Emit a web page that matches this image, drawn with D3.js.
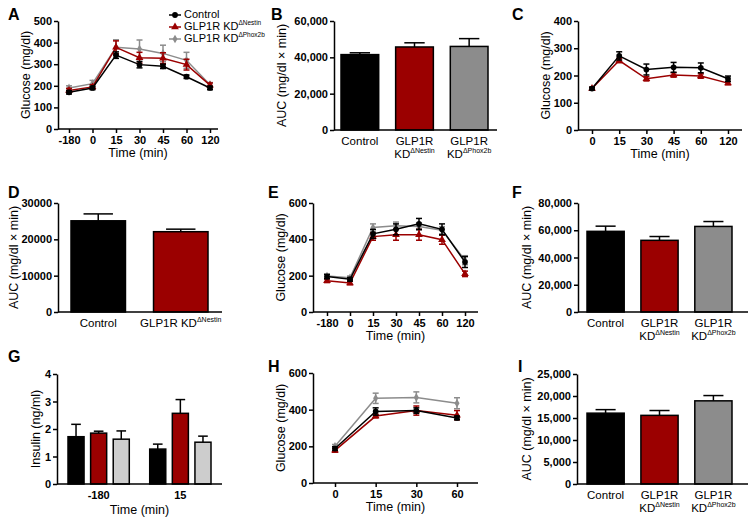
<!DOCTYPE html>
<html><head><meta charset="utf-8">
<script src="https://cdn.jsdelivr.net/npm/d3@7"></script>
<style>
body{margin:0;background:#fff;}
svg{font-family:"Liberation Sans",Arial,Helvetica,sans-serif;}
</style></head>
<body><svg id="c" width="755" height="525"></svg>
<script>
// ---------- DATA ----------
const timeA = ["-180","0","15","30","45","60","120"];
const aControl = [170,190,342,298,290,242,190];
const aControlErr = [8,8,15,15,10,8,8];
const aNestin = [178,195,378,330,328,298,203];
const aNestinErr = [10,10,30,25,25,25,10];
const aPhox = [190,210,378,370,350,318,205];
const aPhoxErr = [10,15,35,42,38,37,10];

const aucGroups = ["Control","Nestin","Phox2b"];
const bAUC = [41500,45700,46000];
const bAUCErr = [1000,2300,4300];

const timeC = ["0","15","30","45","60","120"];
const cControl = [152,272,222,230,228,188];
const cControlErr = [5,15,20,18,18,10];
const cNestin = [152,255,188,202,198,172];
const cNestinErr = [5,8,8,8,8,6];

const dGroups = ["Control","Nestin"];
const dAUC = [25100,22100];
const dAUCErr = [1900,700];

const eControl = [195,180,430,455,485,455,275];
const eControlErr = [12,10,25,30,30,30,30];
const eNestin = [172,160,415,425,425,398,210];
const eNestinErr = [10,10,20,30,30,25,15];
const ePhox = [198,188,465,475,470,450,285];
const ePhoxErr = [10,10,20,20,20,20,25];

const fAUC = [59200,52600,62800];
const fAUCErr = [3800,2800,3600];

const gTimes = ["-180","15"];
const gControl = [1.72,1.27];
const gControlErr = [0.45,0.18];
const gNestin = [1.85,2.57];
const gNestinErr = [0.07,0.5];
const gPhox = [1.63,1.52];
const gPhoxErr = [0.3,0.22];

const timeH = ["0","15","30","60"];
const hControl = [188,390,395,355];
const hControlErr = [10,20,15,10];
const hNestin = [178,365,395,370];
const hNestinErr = [10,10,25,25];
const hPhox = [200,462,467,435];
const hPhoxErr = [10,28,30,30];

const iAUC = [16100,15600,18900];
const iAUCErr = [800,1100,1200];

// ---------- STYLE ----------
const BLACK="#000", RED="#9b0000", GRAY="#8c8c8c", LGRAY="#cdcdcd";
const svg = d3.select("#c");
const TICKF = "bold 11px 'Liberation Sans',Arial,sans-serif";

function yAxisAndFrame(g, L, y, ticks, fmt, title, titleX){
  const ax = g.append("g").attr("transform",`translate(${L.left},0)`)
    .call(d3.axisLeft(y).tickValues(ticks).tickFormat(fmt).tickSize(4).tickSizeOuter(0).tickPadding(2));
  ax.select(".domain").attr("stroke","#000").attr("stroke-width",1.5);
  ax.selectAll(".tick line").attr("stroke","#000").attr("stroke-width",1.5);
  ax.selectAll(".tick text").style("font",TICKF).attr("fill","#000");
  g.append("line").attr("x1",L.left).attr("x2",L.right).attr("y1",L.bottom).attr("y2",L.bottom)
    .attr("stroke","#000").attr("stroke-width",1.5);
  g.append("text").attr("transform",`translate(${titleX},${(L.top+L.bottom)/2}) rotate(-90)`)
    .attr("text-anchor","middle").attr("dominant-baseline","middle")
    .style("font-size","12.5px").text(title);
}
function panelLetter(x,y,t){
  svg.append("text").attr("x",x).attr("y",y).style("font","bold 16px 'Liberation Sans',Arial,sans-serif").text(t);
}
function xTitle(L, t, dy){
  svg.append("text").attr("x",(L.left+L.right)/2).attr("y",L.bottom+(dy||25)).attr("text-anchor","middle")
    .attr("dominant-baseline","middle").style("font-size","12.5px").text(t);
}

const SYM = {c:d3.symbolCircle, t:d3.symbolTriangle, d:d3.symbolDiamond};

function linePanel(L, cats, series, ymax, ticks, letter, titleX){
  const g = svg.append("g");
  const x = d3.scalePoint().domain(cats).range([L.p0,L.p1]);
  const y = d3.scaleLinear().domain([0,ymax]).range([L.bottom,L.top]);
  yAxisAndFrame(g,L,y,ticks,d3.format("d"),"Glucose (mg/dl)",titleX);
  const xa = g.append("g").attr("transform",`translate(0,${L.bottom})`)
    .call(d3.axisBottom(x).tickSize(4).tickPadding(3));
  xa.select(".domain").remove();
  xa.selectAll(".tick line").attr("stroke","#000").attr("stroke-width",1.5);
  xa.selectAll(".tick text").style("font",TICKF).attr("fill","#000");
  series.forEach(s=>{
    const pts = cats.map((c,i)=>({x:x(c),v:s.v[i],e:s.e[i]}));
    g.append("path").datum(pts).attr("fill","none").attr("stroke",s.color).attr("stroke-width",1.5)
      .attr("d",d3.line().x(d=>d.x).y(d=>y(d.v)));
    pts.forEach(d=>{
      g.append("line").attr("x1",d.x).attr("x2",d.x).attr("y1",y(d.v-d.e)).attr("y2",y(d.v+d.e))
        .attr("stroke",s.color).attr("stroke-width",1.5);
      [d.v-d.e,d.v+d.e].forEach(vv=>g.append("line").attr("x1",d.x-3).attr("x2",d.x+3)
        .attr("y1",y(vv)).attr("y2",y(vv)).attr("stroke",s.color).attr("stroke-width",1.5));
      g.append("path").attr("transform",`translate(${d.x},${y(d.v)})`)
        .attr("d",d3.symbol().type(SYM[s.sym]).size(s.sym==="d"?22:26)()).attr("fill",s.color);
    });
  });
  xTitle(L,"Time (min)");
  return g;
}

function catLabel(g, xc, yb, key, single){
  if(key==="Control"){
    g.append("text").attr("x",xc).attr("y",yb).attr("text-anchor","middle").attr("dominant-baseline","middle")
      .style("font-size","11.5px").text("Control");
    return;
  }
  const sup = "\u0394"+key;
  if(single){
    const t = g.append("text").attr("x",xc).attr("y",yb).attr("text-anchor","middle").attr("dominant-baseline","middle")
      .style("font-size","11.5px");
    t.append("tspan").text("GLP1R KD");
    t.append("tspan").attr("dy",-4).style("font-size","7px").text(sup);
    return;
  }
  g.append("text").attr("x",xc).attr("y",yb).attr("text-anchor","middle").attr("dominant-baseline","middle")
    .style("font-size","11.5px").text("GLP1R");
  const t = g.append("text").attr("x",xc).attr("y",yb+13).attr("text-anchor","middle").attr("dominant-baseline","middle")
    .style("font-size","11.5px");
  t.append("tspan").text("KD");
  t.append("tspan").attr("dy",-4).style("font-size","7px").text(sup);
}

function barPanel(L, cats, vals, errs, colors, ymax, ticks, fmt, titleX, single){
  const g = svg.append("g");
  const x = d3.scaleBand().domain(cats).range([L.p0,L.p1]).paddingInner(L.pi).paddingOuter(0);
  const y = d3.scaleLinear().domain([0,ymax]).range([L.bottom,L.top]);
  cats.forEach((c,i)=>{
    const bx = x(c), bw = x.bandwidth(), xc = bx+bw/2;
    g.append("line").attr("x1",xc).attr("x2",xc).attr("y1",y(vals[i])).attr("y2",y(vals[i]+errs[i]))
      .attr("stroke","#000").attr("stroke-width",1.5);
    g.append("line").attr("x1",xc-bw*0.27).attr("x2",xc+bw*0.27).attr("y1",y(vals[i]+errs[i])).attr("y2",y(vals[i]+errs[i]))
      .attr("stroke","#000").attr("stroke-width",1.5);
    g.append("rect").attr("x",bx).attr("y",y(vals[i])).attr("width",bw).attr("height",L.bottom-y(vals[i]))
      .attr("fill",colors[i]).attr("stroke","#000").attr("stroke-width",1.5);
    catLabel(g,xc,L.bottom+12,c,single);
  });
  yAxisAndFrame(g,L,y,ticks,fmt,"AUC (mg/dl \u00d7 min)",titleX);
  return g;
}

// ---------- PANELS ----------
// A
const LA = {left:58,right:218,top:21,bottom:129,p0:69,p1:210};
linePanel(LA,timeA,[
  {v:aPhox,e:aPhoxErr,color:GRAY,sym:"d"},
  {v:aNestin,e:aNestinErr,color:RED,sym:"t"},
  {v:aControl,e:aControlErr,color:BLACK,sym:"c"}],500,[0,100,200,300,400,500],"A",27);
panelLetter(8,20,"A");
// legend
const legItems = [["Control",null,BLACK,"c",15],["GLP1R KD","\u0394Nestin",RED,"t",27],["GLP1R KD","\u0394Phox2b",GRAY,"d",39]];
legItems.forEach(([t,s,col,sym,yy])=>{
  svg.append("line").attr("x1",169).attr("x2",181).attr("y1",yy).attr("y2",yy).attr("stroke",col).attr("stroke-width",1.5);
  svg.append("path").attr("transform",`translate(175,${yy})`).attr("d",d3.symbol().type(SYM[sym]).size(sym==="d"?22:26)()).attr("fill",col);
  const tx = svg.append("text").attr("x",184).attr("y",yy).attr("dominant-baseline","middle").style("font-size","11px");
  tx.append("tspan").text(t);
  if(s) tx.append("tspan").attr("dy",-4).style("font-size","6.5px").text(s);
});

// B
const LB = {left:334,right:497,top:21,bottom:130,p0:341,p1:488,pi:0.31};
barPanel(LB,aucGroups,bAUC,bAUCErr,[BLACK,RED,GRAY],60000,[0,20000,40000,60000],d3.format(","),283);
panelLetter(271,20,"B");

// C
const LC = {left:578,right:742,top:21,bottom:130,p0:592,p1:728};
linePanel(LC,timeC,[
  {v:cNestin,e:cNestinErr,color:RED,sym:"t"},
  {v:cControl,e:cControlErr,color:BLACK,sym:"c"}],400,[0,100,200,300,400],"C",547);
panelLetter(512,20,"C");

// D
const LD = {left:58,right:222,top:203,bottom:312,p0:71,p1:208,pi:0.34};
barPanel(LD,dGroups,dAUC,dAUCErr,[BLACK,RED],30000,[0,10000,20000,30000],d3.format("d"),15,true);
panelLetter(8,198,"D");

// E
const LE = {left:313,right:478,top:203,bottom:312,p0:327,p1:465};
linePanel(LE,timeA,[
  {v:ePhox,e:ePhoxErr,color:GRAY,sym:"d"},
  {v:eNestin,e:eNestinErr,color:RED,sym:"t"},
  {v:eControl,e:eControlErr,color:BLACK,sym:"c"}],600,[0,200,400,600],"E",282);
panelLetter(268,198,"E");

// F
const LF = {left:578,right:748,top:203,bottom:312,p0:587,p1:732,pi:0.31};
barPanel(LF,aucGroups,fAUC,fAUCErr,[BLACK,RED,GRAY],80000,[0,20000,40000,60000,80000],d3.format(","),528);
panelLetter(512,198,"F");

// G
(function(){
  const L = {left:57,right:222,top:374,bottom:484};
  const g = svg.append("g");
  const x0 = d3.scaleBand().domain(gTimes).range([68,211]).paddingInner(0.25).paddingOuter(0);
  const x1 = d3.scaleBand().domain(["Control","Nestin","Phox2b"]).range([0,x0.bandwidth()]).paddingInner(0.29).paddingOuter(0);
  const y = d3.scaleLinear().domain([0,4]).range([L.bottom,L.top]);
  const ser = [["Control",gControl,gControlErr,BLACK],["Nestin",gNestin,gNestinErr,RED],["Phox2b",gPhox,gPhoxErr,LGRAY]];
  gTimes.forEach((t,i)=>{
    ser.forEach(([k,v,e,col])=>{
      const bx = x0(t)+x1(k), bw=x1.bandwidth(), xc=bx+bw/2;
      g.append("line").attr("x1",xc).attr("x2",xc).attr("y1",y(v[i])).attr("y2",y(v[i]+e[i])).attr("stroke","#000").attr("stroke-width",1.5);
      g.append("line").attr("x1",xc-bw*0.3).attr("x2",xc+bw*0.3).attr("y1",y(v[i]+e[i])).attr("y2",y(v[i]+e[i])).attr("stroke","#000").attr("stroke-width",1.5);
      g.append("rect").attr("x",bx).attr("y",y(v[i])).attr("width",bw).attr("height",L.bottom-y(v[i]))
        .attr("fill",col).attr("stroke","#000").attr("stroke-width",1.5);
    });
    g.append("text").attr("x",x0(t)+x0.bandwidth()/2).attr("y",L.bottom+12).attr("text-anchor","middle")
      .attr("dominant-baseline","middle").style("font",TICKF).text(t);
  });
  yAxisAndFrame(g,L,y,[0,1,2,3,4],d3.format("d"),"Insulin (ng/ml)",37);
  xTitle(L,"Time (min)",27);
})();
panelLetter(8,362,"G");

// H
const LH = {left:313,right:478,top:373,bottom:483,p0:335,p1:457};
linePanel(LH,timeH,[
  {v:hPhox,e:hPhoxErr,color:GRAY,sym:"d"},
  {v:hNestin,e:hNestinErr,color:RED,sym:"t"},
  {v:hControl,e:hControlErr,color:BLACK,sym:"c"}],600,[0,200,400,600],"H",282);
panelLetter(268,372,"H");

// I
const LI = {left:577,right:748,top:374,bottom:484,p0:587,p1:732,pi:0.31};
barPanel(LI,aucGroups,iAUC,iAUCErr,[BLACK,RED,GRAY],25000,[0,5000,10000,15000,20000,25000],d3.format(","),528);
panelLetter(518,372,"I");
</script></body></html>
